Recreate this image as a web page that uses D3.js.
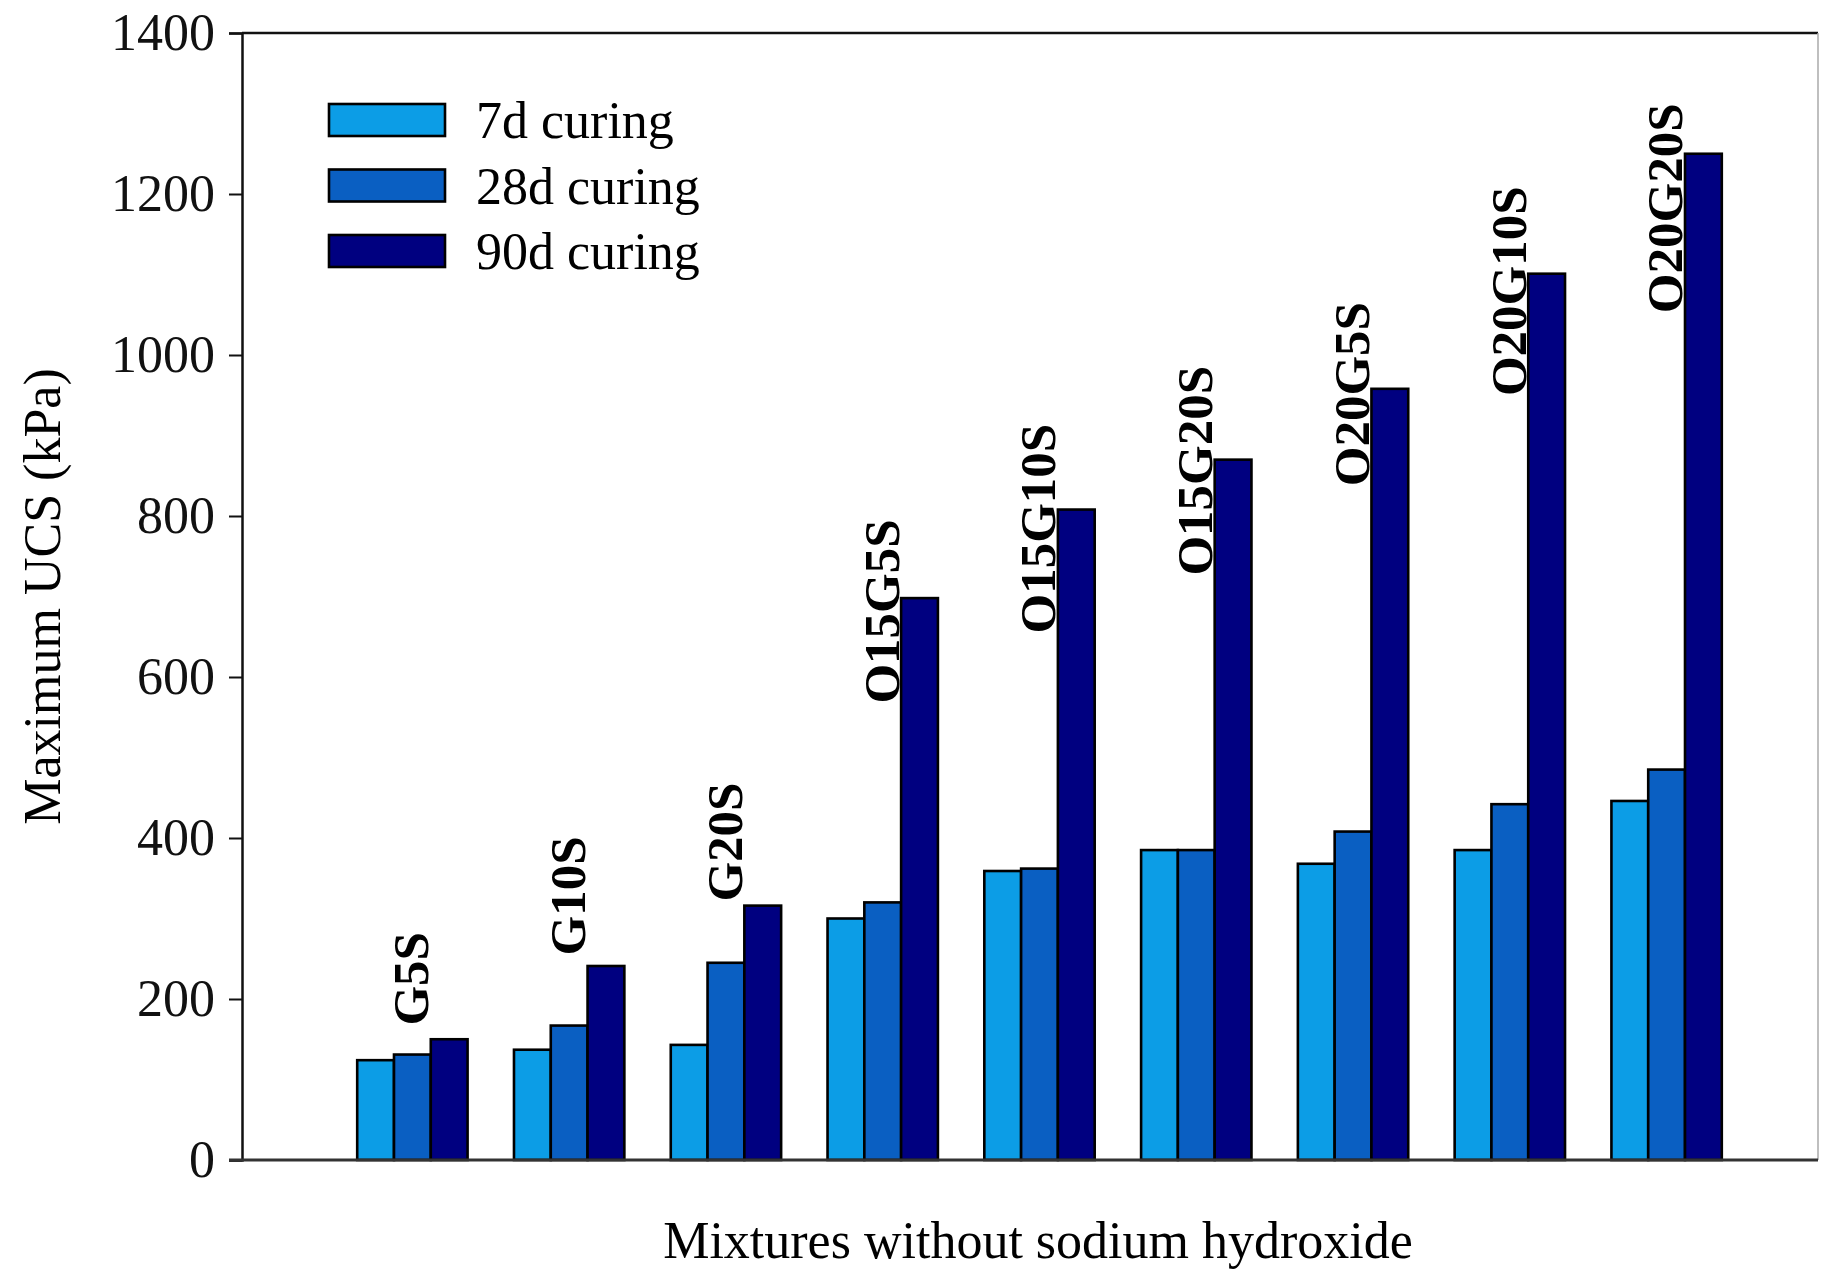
<!DOCTYPE html>
<html>
<head>
<meta charset="utf-8">
<script src="https://cdn.jsdelivr.net/npm/d3@7"></script>
<style>
  body { margin: 0; background: #fff; }
  text { font-family: "Liberation Serif", "Times New Roman", serif; }
</style>
</head>
<body>
<svg id="chart"></svg>
<script>
// Chart data
const mixtures = ["G5S", "G10S", "G20S", "O15G5S", "O15G10S", "O15G20S", "O20G5S", "O20G10S", "O20G20S"];
const series = ["7d curing", "28d curing", "90d curing"];
const ucs7 = [124, 137, 143, 300, 359, 385, 368, 385, 446];
const ucs28 = [131, 167, 245, 320, 362, 385, 408, 442, 485];
const ucs90 = [150, 241, 316, 698, 808, 870, 958, 1101, 1250];
// value where each rotated mixture label starts
const labelAt = [167, 254, 321, 567, 654, 726, 837, 949, 1052];
const yTicks = [0, 200, 400, 600, 800, 1000, 1200, 1400];

const colors = ["#0c9de6", "#0a5fc2", "#000080"];
const values = [ucs7, ucs28, ucs90];

// Set chart size
const margin = { top: 33, right: 4, bottom: 112, left: 242 };
const width = 1822 - margin.left - margin.right;
const height = 1272 - margin.top - margin.bottom;

const svg = d3.select("#chart")
  .attr("width", width + margin.left + margin.right)
  .attr("height", height + margin.top + margin.bottom)
  .append("g")
  .attr("transform", `translate(${margin.left},${margin.top})`);

// Scales
const x0 = d3.scaleBand()
  .domain(mixtures)
  .range([92, 1503])
  .paddingInner(0.296)
  .paddingOuter(0.148);

const x1 = d3.scaleBand()
  .domain(series)
  .range([0, x0.bandwidth()]);

const y = d3.scaleLinear()
  .domain([0, 1400])
  .range([height, 0]);

// Frame (top and right)
svg.append("line")
  .attr("x1", 0).attr("x2", width)
  .attr("y1", 0).attr("y2", 0)
  .attr("stroke", "#111").attr("stroke-width", 2.5);
svg.append("line")
  .attr("x1", width).attr("x2", width)
  .attr("y1", 0).attr("y2", height)
  .attr("stroke", "#aaa").attr("stroke-width", 1.5);

// Bars
const groups = svg.selectAll("g.mix")
  .data(mixtures)
  .enter()
  .append("g")
  .attr("class", "mix")
  .attr("transform", d => `translate(${x0(d)},0)`);

groups.selectAll("rect")
  .data((d, i) => series.map((s, j) => ({ s, j, v: values[j][i] })))
  .enter()
  .append("rect")
  .attr("x", d => x1(d.s))
  .attr("y", d => y(d.v))
  .attr("width", x1.bandwidth())
  .attr("height", d => height - y(d.v))
  .attr("fill", d => colors[d.j])
  .attr("stroke", "#000")
  .attr("stroke-width", 2.6);

// Mixture labels
svg.selectAll("text.mix-label")
  .data(mixtures)
  .enter()
  .append("text")
  .attr("class", "mix-label")
  .attr("transform", (d, i) => `translate(${x0(d) + x0.bandwidth() / 2 - 2},${y(labelAt[i])}) rotate(-90)`)
  .attr("dy", "0.35em")
  .attr("font-size", 51)
  .attr("font-weight", "bold")
  .text(d => d);

// Axes
const yAxis = svg.append("g")
  .call(d3.axisLeft(y).tickValues(yTicks).tickFormat(d3.format("d")).tickSize(13).tickPadding(14));
yAxis.select(".domain").attr("stroke", "#111").attr("stroke-width", 2.5);
yAxis.selectAll(".tick line").attr("stroke", "#111").attr("stroke-width", 2);
yAxis.selectAll(".tick text")
  .attr("font-size", 52)
  .attr("font-family", "Liberation Serif")
  .attr("fill", "#111");

svg.append("line")
  .attr("x1", -13).attr("x2", width)
  .attr("y1", height).attr("y2", height)
  .attr("stroke", "#333").attr("stroke-width", 3);

// Legend
const legend = svg.append("g")
  .attr("transform", "translate(87,0)");
series.forEach((s, j) => {
  const cy = 87 + j * 65.5;
  legend.append("rect")
    .attr("x", 0).attr("y", cy - 16)
    .attr("width", 116).attr("height", 32)
    .attr("fill", colors[j])
    .attr("stroke", "#000").attr("stroke-width", 2.6);
  legend.append("text")
    .attr("x", 147).attr("y", cy)
    .attr("dy", "0.35em")
    .attr("font-size", 52)
    .text(s);
});

// Axis titles
svg.append("text")
  .attr("x", width / 2 + 8)
  .attr("y", height + 98)
  .attr("text-anchor", "middle")
  .attr("font-size", 52)
  .text("Mixtures without sodium hydroxide");

svg.append("text")
  .attr("transform", `translate(-182,${height / 2}) rotate(-90)`)
  .attr("text-anchor", "middle")
  .attr("font-size", 52)
  .text("Maximum UCS (kPa)");
</script>
</body>
</html>
